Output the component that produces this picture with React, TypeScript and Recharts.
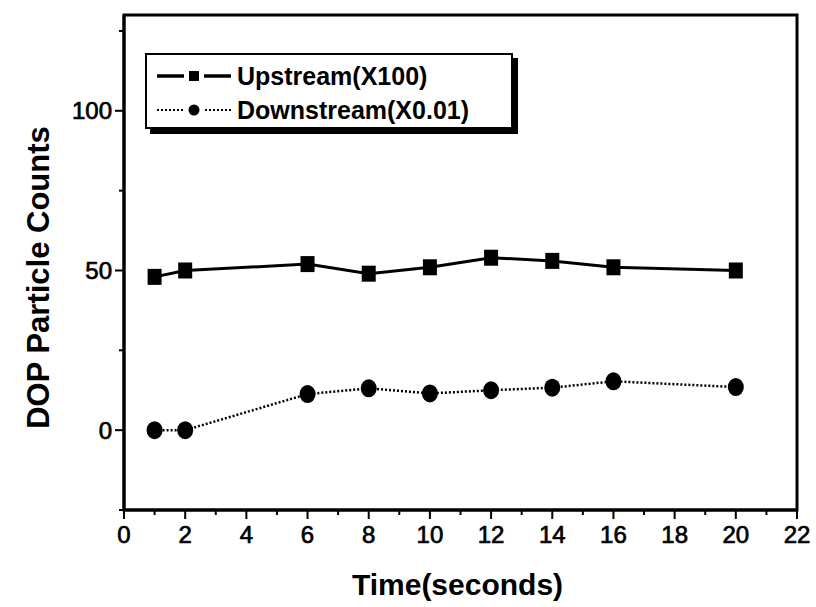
import { LineChart, Line, XAxis, YAxis, ReferenceArea } from "recharts";

// ─── Data ────────────────────────────────────────────────────────────────────

const timeSec = [1, 2, 6, 8, 10, 12, 14, 16, 20];
const upstream = [48, 50, 52, 49, 51, 54, 53, 51, 50];
const downstream = [0, 0, 11.3, 13.1, 11.5, 12.5, 13.3, 15.3, 13.5];

const xTicks = [0, 1, 2, 3, 4, 5, 6, 7, 8, 9, 10, 11, 12, 13, 14, 15, 16, 17, 18, 19, 20, 21, 22];
const xLabelTicks = [0, 2, 4, 6, 8, 10, 12, 14, 16, 18, 20, 22];
const yTicks = [-25, 0, 25, 50, 75, 100, 125];
const yLabelTicks = [0, 50, 100];

const seriesNames = ["Upstream(X100)", "Downstream(X0.01)"];

const data = timeSec.map((t, i) => ({ t, up: upstream[i], down: downstream[i] }));

const FONT = "'Liberation Sans', Arial, Helvetica, sans-serif";

// ─── Ticks & markers ─────────────────────────────────────────────────────────

function XTick(props: any) {
    const { x, y, payload } = props;
    const major = xLabelTicks.includes(payload.value);
    return (
        <g>
            <line x1={x} x2={x} y1={y} y2={y + (major ? 9 : 5)} stroke="#000" strokeWidth={2} />
            {major && (
                <text
                    x={x}
                    y={y + 33}
                    textAnchor="middle"
                    fontSize={24}
                    fontFamily={FONT}
                    fill="#000"
                    stroke="#000"
                    strokeWidth={0.7}
                >
                    {payload.value}
                </text>
            )}
        </g>
    );
}

function YTick(props: any) {
    const { x, y, payload } = props;
    const major = yLabelTicks.includes(payload.value);
    return (
        <g>
            <line x1={x} x2={x - (major ? 9 : 5)} y1={y} y2={y} stroke="#000" strokeWidth={2} />
            {major && (
                <text
                    x={x - 12}
                    y={y + 8.5}
                    textAnchor="end"
                    fontSize={24}
                    fontFamily={FONT}
                    fill="#000"
                    stroke="#000"
                    strokeWidth={0.7}
                >
                    {payload.value}
                </text>
            )}
        </g>
    );
}

function SquareDot(props: any) {
    const { cx, cy } = props;
    if (cx == null || cy == null) return null;
    return <rect x={cx - 7} y={cy - 8} width={14} height={16} fill="#000" />;
}

function CircleDot(props: any) {
    const { cx, cy } = props;
    if (cx == null || cy == null) return null;
    return <ellipse cx={cx} cy={cy} rx={8} ry={9} fill="#000" />;
}

// ─── Legend box (drop-shadow style) ──────────────────────────────────────────

function LegendBox() {
    return (
        <div
            style={{
                position: "absolute",
                left: 145,
                top: 53,
                width: 364,
                height: 72,
                border: "2px solid #000",
                boxShadow: "5px 5px 0 #000",
                background: "#fff",
                fontFamily: FONT,
                fontWeight: "bold",
                fontSize: 25,
                color: "#000",
            }}
        >
            {seriesNames.map((name, i) => (
                <div
                    key={name}
                    style={{ position: "absolute", left: 8, top: i === 0 ? 5 : 39, height: 32, display: "flex", alignItems: "center" }}
                >
                    <svg width={78} height={20}>
                        <line
                            x1={2}
                            x2={76}
                            y1={10}
                            y2={10}
                            stroke="#000"
                            strokeWidth={i === 0 ? 3.5 : 2}
                            strokeDasharray={i === 0 ? undefined : "2 2"}
                        />
                        <rect x={29} y={2} width={20} height={16} fill="#fff" />
                        {i === 0 ? (
                            <rect x={34} y={5} width={10} height={10} fill="#000" />
                        ) : (
                            <circle cx={39} cy={10} r={5.5} fill="#000" />
                        )}
                    </svg>
                    <span style={{ marginLeft: 4, whiteSpace: "nowrap" }}>{name}</span>
                </div>
            ))}
        </div>
    );
}

// ─── Chart ───────────────────────────────────────────────────────────────────

export default function App() {
    return (
        <div style={{ position: "absolute", left: 0, top: 0, width: 816, height: 607, background: "#fff" }}>
            <LineChart width={816} height={607} data={data} margin={{ top: 15, right: 19, bottom: 0, left: 0 }}>
                <ReferenceArea x1={0} x2={22} y1={-25} y2={130} fill="none" stroke="#000" strokeWidth={3} />
                <XAxis
                    type="number"
                    dataKey="t"
                    domain={[0, 22]}
                    ticks={xTicks}
                    interval={0}
                    height={97}
                    tickSize={0}
                    tickMargin={0}
                    tickLine={false}
                    axisLine={{ stroke: "#000", strokeWidth: 3 }}
                    tick={<XTick />}
                    label={({ viewBox }: any) => (
                        <text
                            x={viewBox.x + viewBox.width / 2 - 3}
                            y={viewBox.y + 85}
                            textAnchor="middle"
                            fontFamily={FONT}
                            fontWeight="bold"
                            fontSize={30}
                            fill="#000"
                        >
                            Time(seconds)
                        </text>
                    )}
                />
                <YAxis
                    type="number"
                    domain={[-25, 130]}
                    ticks={yTicks}
                    interval={0}
                    allowDataOverflow
                    width={124}
                    tickSize={0}
                    tickMargin={0}
                    tickLine={false}
                    axisLine={{ stroke: "#000", strokeWidth: 3 }}
                    tick={<YTick />}
                    label={({ viewBox }: any) => {
                        const cx = 38;
                        const cy = viewBox.y + viewBox.height / 2 + 15;
                        return (
                            <text
                                x={cx}
                                y={cy}
                                transform={`rotate(-90, ${cx}, ${cy})`}
                                textAnchor="middle"
                                dominantBaseline="central"
                                fontFamily={FONT}
                                fontWeight="bold"
                                fontSize={31}
                                fill="#000"
                            >
                                DOP Particle Counts
                            </text>
                        );
                    }}
                />
                <Line
                    dataKey="up"
                    name={seriesNames[0]}
                    type="linear"
                    stroke="#000"
                    strokeWidth={3}
                    dot={<SquareDot />}
                    activeDot={false}
                    isAnimationActive={false}
                />
                <Line
                    dataKey="down"
                    name={seriesNames[1]}
                    type="linear"
                    stroke="#000"
                    strokeWidth={2.5}
                    strokeDasharray="2 2"
                    dot={<CircleDot />}
                    activeDot={false}
                    isAnimationActive={false}
                />
            </LineChart>
            <LegendBox />
        </div>
    );
}
